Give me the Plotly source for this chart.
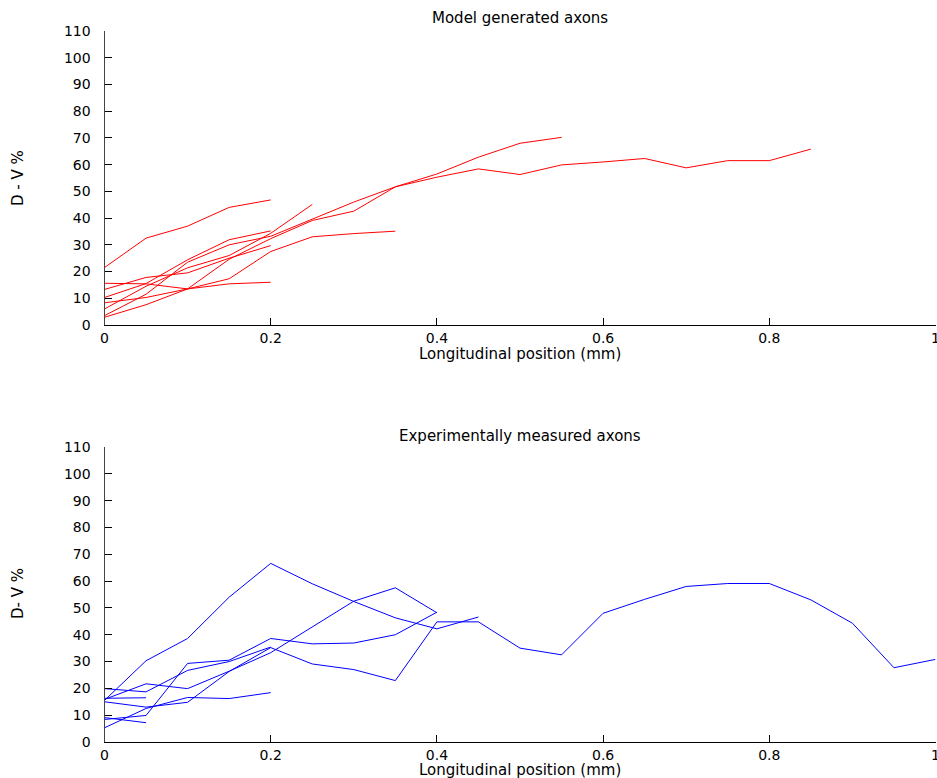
import plotly.graph_objects as go

W, H = 937, 778

# ---------------- data ----------------
step = 0.05

# Model generated axons (red), values start at x = 0, every 0.05 mm
red_lines = [
    [21.5, 32.5, 37.0, 44.0, 46.8],
    [15.6, 15.4, 13.5, 15.4, 16.0],
    [8.3, 10.3, 13.5, 17.3, 27.5, 33.0, 34.2, 35.1],
    [13.3, 17.8, 19.5, 25.0, 29.7],
    [10.3, 15.5, 24.4, 31.9, 35.2],
    [6.0, 14.5, 21.4, 26.0, 34.3, 45.1],
    [3.5, 11.5, 23.5, 30.0, 33.2, 39.7, 46.0, 51.7, 56.5, 62.8, 68.0, 70.2],
    [2.9, 7.6, 13.5, 24.6, 32.3, 39.1, 42.6, 51.7, 55.3, 58.4, 56.3, 59.9,
     61.0, 62.3, 58.8, 61.5, 61.5, 65.8],
]

# Experimentally measured axons (blue)
blue_lines = [
    [15.5, 30.3, 38.6, 54.0, 66.6, 59.0, 52.4, 46.3, 42.2, 46.6],
    [15.0, 13.0, 14.8, 26.3, 35.2, 29.1, 27.0, 22.9, 44.8, 44.8, 35.0, 32.5,
     48.0, 53.2, 58.0, 59.1, 59.1, 53.0, 44.3, 27.7, 30.8],
    [8.4, 9.9, 29.3, 30.5, 38.6, 36.6, 36.9, 40.0, 48.4],
    [15.9, 21.7, 19.9, 26.4, 33.3, 43.0, 52.5, 57.5, 48.2],
    [16.3, 16.5],
    [9.1, 7.2],
    [5.3, 12.5, 16.6, 16.2, 18.4],
    [19.9, 18.7, 26.7, 30.0, 35.4],
]

x_ticks = [0, 0.2, 0.4, 0.6, 0.8, 1]
x_ticktext = ["0", "0.2", "0.4", "0.6", "0.8", "1"]
y_ticks = list(range(0, 111, 10))

titles = ["Model generated axons", "Experimentally measured axons"]
y_titles = ["D - V %", "D- V %"]
x_title = "Longitudinal position (mm)"

# ---------------- figure ----------------
fig = go.Figure()

for ys in red_lines:
    fig.add_trace(go.Scatter(x=[i * step for i in range(len(ys))], y=ys,
                             mode="lines", line=dict(color="#ff0000", width=1),
                             xaxis="x", yaxis="y", showlegend=False, hoverinfo="skip"))
for ys in blue_lines:
    fig.add_trace(go.Scatter(x=[i * step for i in range(len(ys))], y=ys,
                             mode="lines", line=dict(color="#0000ff", width=1),
                             xaxis="x2", yaxis="y2", showlegend=False, hoverinfo="skip"))

FONT = "DejaVu Sans"
tickfont = dict(family=FONT, size=14, color="black")

x_left, x_right = 104.5, 935.5
xdom = [x_left / W, x_right / W]
top_dom = [(H - 325) / H, (H - 31) / H]
bot_dom = [(H - 742) / H, (H - 447) / H]

def xaxis(anchor):
    return dict(domain=xdom, range=[0, 1], anchor=anchor, tickvals=x_ticks,
                ticktext=x_ticktext, ticks="inside", ticklen=7, tickcolor="black",
                showline=True, linecolor="black", linewidth=1, showgrid=False,
                zeroline=False, tickfont=tickfont, ticklabelstandoff=0,
                ticklabeloverflow="allow", automargin=False)

def yaxis(dom, anchor):
    return dict(domain=dom, range=[0, 110], anchor=anchor, tickvals=y_ticks,
                ticks="inside", ticklen=7, tickcolor="black", showline=True,
                linecolor="#444444", linewidth=1, showgrid=False, zeroline=False,
                tickfont=tickfont, ticklabelstandoff=10, automargin=False)

fig.update_layout(
    width=W, height=H,
    margin=dict(l=0, r=0, t=0, b=0, pad=0, autoexpand=False),
    paper_bgcolor="white", plot_bgcolor="white",
    xaxis=xaxis("y"), yaxis=yaxis(top_dom, "x"),
    xaxis2=xaxis("y2"), yaxis2=yaxis(bot_dom, "x2"),
    showlegend=False,
)

def ann(text, px, py, angle=0, size=15):
    fig.add_annotation(text=text, x=px / W, y=(H - py) / H, xref="paper", yref="paper",
                       xanchor="center", yanchor="middle", showarrow=False,
                       textangle=angle, font=dict(family=FONT, size=size, color="black"))

cx = (x_left + x_right) / 2
ann(titles[0], cx, 18)
ann(x_title, cx, 354)
ann(y_titles[0], 18, 178, angle=-90)
ann(titles[1], cx, 436)
ann(x_title, cx, 770)
ann(y_titles[1], 18, 594, angle=-90)

fig.write_html("out.html")
